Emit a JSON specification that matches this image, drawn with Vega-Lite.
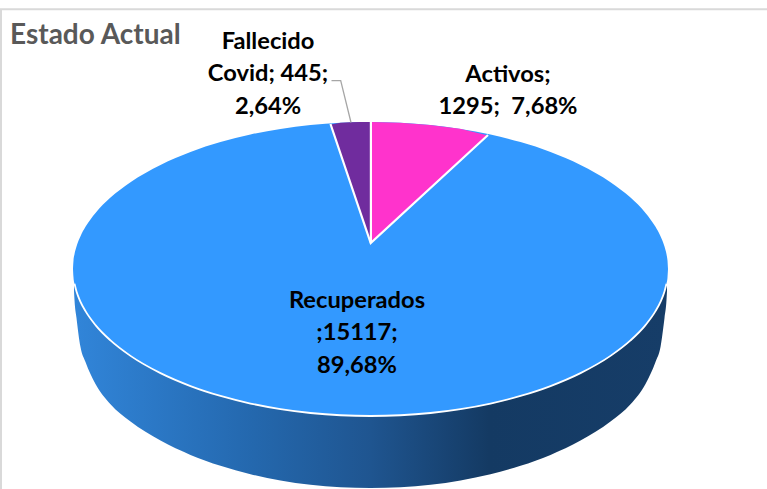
{"$schema":"https://vega.github.io/schema/vega-lite/v6.json","width":767,"height":489,"padding":0,"autosize":"none","background":"#ffffff","view":{"stroke":null},
"datasets":{
"wall":[{"x":74,"y":285,"y2":291},{"x":74.5,"y":283.73,"y2":300},{"x":76.5,"y":291.48,"y2":318},{"x":80.5,"y":301.8,"y2":347},{"x":85.5,"y":311.16,"y2":362},{"x":95.5,"y":325.08,"y2":384},{"x":110.5,"y":340.44,"y2":404.3},{"x":130.5,"y":355.87,"y2":421.5},{"x":160.5,"y":373.12,"y2":440.6},{"x":190.5,"y":386.04,"y2":454.9},{"x":220.5,"y":395.95,"y2":465.8},{"x":250.5,"y":403.51,"y2":474.2},{"x":280.5,"y":409.11,"y2":480.4},{"x":310.5,"y":412.98,"y2":484.7},{"x":340.5,"y":415.25,"y2":487.2},{"x":370.5,"y":416,"y2":488},{"x":400.5,"y":415.25,"y2":487.2},{"x":430.5,"y":412.98,"y2":484.7},{"x":460.5,"y":409.11,"y2":480.4},{"x":490.5,"y":403.51,"y2":474.2},{"x":520.5,"y":395.95,"y2":465.8},{"x":550.5,"y":386.04,"y2":454.9},{"x":580.5,"y":373.12,"y2":440.6},{"x":610.5,"y":355.87,"y2":421.5},{"x":630.5,"y":340.44,"y2":404.3},{"x":645.5,"y":325.08,"y2":384},{"x":655.5,"y":311.16,"y2":362},{"x":660.5,"y":301.8,"y2":347},{"x":664.5,"y":291.48,"y2":318},{"x":666.5,"y":283.73,"y2":300},{"x":667,"y":285,"y2":291}],
"top":[{"x":73,"y":269,"y2":269},{"x":73.5,"y":260.48,"y2":277.52},{"x":74.5,"y":254.27,"y2":283.73},{"x":76.5,"y":246.52,"y2":291.48},{"x":80.5,"y":236.2,"y2":301.8},{"x":85.5,"y":226.84,"y2":311.16},{"x":95.5,"y":212.92,"y2":325.08},{"x":110.5,"y":197.56,"y2":340.44},{"x":130.5,"y":182.13,"y2":355.87},{"x":160.5,"y":164.88,"y2":373.12},{"x":190.5,"y":151.96,"y2":386.04},{"x":220.5,"y":142.05,"y2":395.95},{"x":250.5,"y":134.49,"y2":403.51},{"x":280.5,"y":128.89,"y2":409.11},{"x":310.5,"y":125.02,"y2":412.98},{"x":340.5,"y":122.75,"y2":415.25},{"x":370.5,"y":122,"y2":416},{"x":400.5,"y":122.75,"y2":415.25},{"x":430.5,"y":125.02,"y2":412.98},{"x":460.5,"y":128.89,"y2":409.11},{"x":490.5,"y":134.49,"y2":403.51},{"x":520.5,"y":142.05,"y2":395.95},{"x":550.5,"y":151.96,"y2":386.04},{"x":580.5,"y":164.88,"y2":373.12},{"x":610.5,"y":182.13,"y2":355.87},{"x":630.5,"y":197.56,"y2":340.44},{"x":645.5,"y":212.92,"y2":325.08},{"x":655.5,"y":226.84,"y2":311.16},{"x":660.5,"y":236.2,"y2":301.8},{"x":664.5,"y":246.52,"y2":291.48},{"x":666.5,"y":254.27,"y2":283.73},{"x":667.5,"y":260.48,"y2":277.52},{"x":668,"y":269,"y2":269}],
"slices":[{"estado":"Fallecido Covid","x":331,"y":124.6,"y2":125},{"estado":"Fallecido Covid","x":340.5,"y":122.75,"y2":153.4},{"estado":"Fallecido Covid","x":350,"y":122.3,"y2":181.8},{"estado":"Fallecido Covid","x":360,"y":122.1,"y2":211.6},{"estado":"Fallecido Covid","x":370.5,"y":122,"y2":243},{"estado":"Activos","x":371,"y":122,"y2":243},{"estado":"Activos","x":400,"y":122.7,"y2":216.1},{"estado":"Activos","x":430,"y":125,"y2":188.3},{"estado":"Activos","x":460,"y":128.8,"y2":160.5},{"estado":"Activos","x":487,"y":135.3,"y2":135.5}],
"lines":[{"id":"a","seq":1,"x":330.5,"y":124},{"id":"a","seq":2,"x":370.7,"y":243},{"id":"a","seq":3,"x":488,"y":135},{"id":"b","seq":1,"x":370.9,"y":122},{"id":"b","seq":2,"x":370.9,"y":243}],
"leader":[{"seq":1,"x":331.5,"y":80.7},{"seq":2,"x":340.7,"y":80.7},{"seq":3,"x":351,"y":122.5}],
"frame":[{"seq":1,"x":1,"y":489},{"seq":2,"x":1,"y":9.2},{"seq":3,"x":767,"y":9.2}],
"labels":[{"estado":"Fallecido Covid","casos":445,"pct":"2,64%","label":"Fallecido\nCovid; 445;\n2,64%","x":268,"y":41.5},{"estado":"Activos","casos":1295,"pct":"7,68%","label":"Activos;\n1295;\u00a0 7,68%","x":508,"y":74.5},{"estado":"Recuperados","casos":15117,"pct":"89,68%","label":"Recuperados\n;15117;\n89,68%","x":357,"y":300.5}],
"heading":[{"label":"Estado Actual","x":10,"y":35.5}]
},
"layer":[
{"data":{"name":"frame"},"mark":{"type":"line","color":"#d9d9d9","strokeWidth":2,"clip":false},"encoding":{"x":{"field":"x","type":"quantitative","scale":{"domain":[0,767],"nice":false,"zero":false},"axis":null},"y":{"field":"y","type":"quantitative","scale":{"domain":[489,0],"nice":false,"zero":false},"axis":null},"order":{"field":"seq"}}},
{"data":{"name":"wall"},"mark":{"type":"area","orient":"vertical","interpolate":"monotone","color":{"gradient":"linear","x1":0,"y1":0,"x2":1,"y2":0,"stops":[{"offset":0,"color":"#3185D9"},{"offset":0.3,"color":"#2468AE"},{"offset":0.5,"color":"#1F5590"},{"offset":0.7,"color":"#143A63"},{"offset":1,"color":"#163D68"}]}},"encoding":{"x":{"field":"x","type":"quantitative"},"y":{"field":"y","type":"quantitative"},"y2":{"field":"y2"}}},
{"data":{"name":"top"},"mark":{"type":"area","orient":"vertical","interpolate":"monotone","color":"#3399FF"},"encoding":{"x":{"field":"x","type":"quantitative"},"y":{"field":"y","type":"quantitative"},"y2":{"field":"y2"}}},
{"data":{"name":"top"},"transform":[{"filter":"datum.x>=74 && datum.x<=667"}],"mark":{"type":"line","interpolate":"monotone","color":"#ffffff","strokeWidth":1.8},"encoding":{"x":{"field":"x","type":"quantitative"},"y":{"field":"y2","type":"quantitative"}}},
{"data":{"name":"slices"},"mark":{"type":"area","orient":"vertical"},"encoding":{"x":{"field":"x","type":"quantitative"},"y":{"field":"y","type":"quantitative"},"y2":{"field":"y2"},"color":{"field":"estado","type":"nominal","scale":{"domain":["Activos","Fallecido Covid"],"range":["#FF33CC","#702C9E"]},"legend":null}}},
{"data":{"name":"lines"},"mark":{"type":"line","color":"#ffffff","strokeWidth":2.2},"encoding":{"x":{"field":"x","type":"quantitative"},"y":{"field":"y","type":"quantitative"},"detail":{"field":"id"},"order":{"field":"seq"}}},
{"data":{"name":"leader"},"mark":{"type":"line","color":"#a6a6a6","strokeWidth":1.3},"encoding":{"x":{"field":"x","type":"quantitative"},"y":{"field":"y","type":"quantitative"},"order":{"field":"seq"}}},
{"data":{"name":"labels"},"mark":{"type":"text","font":"Lato","fontWeight":"bold","fontSize":23.7,"color":"#000000","align":"center","baseline":"middle","lineBreak":"\n","lineHeight":32.5},"encoding":{"x":{"field":"x","type":"quantitative"},"y":{"field":"y","type":"quantitative"},"text":{"field":"label"}}},
{"data":{"name":"heading"},"mark":{"type":"text","font":"Lato","fontWeight":"bold","fontSize":28,"color":"#595959","align":"left","baseline":"middle"},"encoding":{"x":{"field":"x","type":"quantitative"},"y":{"field":"y","type":"quantitative"},"text":{"field":"label"}}}
]}
